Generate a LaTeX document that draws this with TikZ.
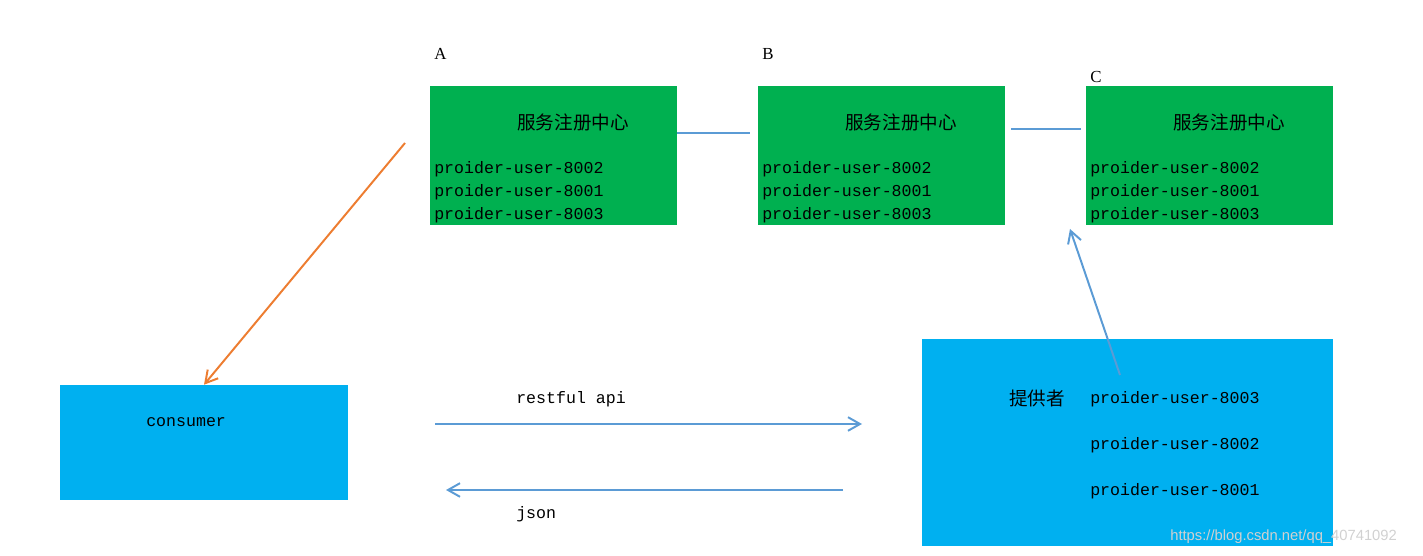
\documentclass[tikz,border=0pt]{standalone}
\usepackage{fontspec}
\setmainfont{Liberation Serif}
\setmonofont{Liberation Mono}
\newfontfamily\cjk{Noto Sans CJK SC}
\newfontfamily\wmfont{Liberation Sans}
\usepackage{tikz}
\usetikzlibrary{arrows.meta,positioning}

\definecolor{regGreen}{HTML}{00B050}
\definecolor{boxCyan}{HTML}{00B0F0}
\definecolor{lineBlue}{HTML}{5B9BD5}
\definecolor{lineOrange}{HTML}{ED7D31}

\begin{document}
\begin{tikzpicture}[x=0.025cm, y=-0.025cm]
				\tikzstyle{Registry}	= [fill=regGreen, minimum width=6.175cm, minimum height=3.475cm, inner sep=0pt]
				\tikzstyle{Client}	= [fill=boxCyan, minimum width=7.2cm, minimum height=2.875cm, inner sep=0pt]
				\tikzstyle{Provider}	= [fill=boxCyan, minimum width=10.275cm, minimum height=5.175cm, inner sep=0pt]
				\tikzstyle{Title}	= [font=\cjk\fontsize{13.2}{16}\selectfont, inner sep=0pt]
				\tikzstyle{Members}	= [font=\ttfamily\fontsize{11.8}{16.4}\selectfont, align=left, anchor=west, inner sep=0pt]
				\tikzstyle{Letter}	= [font=\fontsize{12}{14}\selectfont, anchor=west, inner sep=0pt]
				\tikzstyle{Tag}		= [font=\ttfamily\fontsize{11.8}{14}\selectfont, anchor=west, inner sep=0pt]
				\tikzstyle{Link}		= [lineBlue, line width=1.4pt]
				\tikzstyle{Call}		= [-{Straight Barb[length=0.3cm, width=0.34cm, line width=1.4pt]}, line width=1.4pt]
				
				\useasboundingbox (0,0) rectangle (1423,556);
				
				% three registry centres
				\foreach \n/\x/\ly in {A/430/54, B/758/54, C/1086/77} {
					\node (reg\n) at (\x+123.5, 155.5) [Registry] {};
					\node (lab\n) at (\x+4, \ly) [Letter] {\n};
					\node (title\n) at (\x+143, 122) [Title] {服务注册中心};
					\node (list\n) at (\x+4, 192) [Members] {proider-user-8002\\proider-user-8001\\proider-user-8003};
				}
				
				\draw [Link] ([yshift=0.5625cm]regA.east) -- ([xshift=-0.2cm, yshift=0.5625cm]regB.west);
				\draw [Link] ([xshift=0.15cm, yshift=0.6625cm]regB.east) -- ([xshift=-0.125cm, yshift=0.6625cm]regC.west);
				
				\node (consumer) at (204, 442.5) [Client] {};
				\node (consumerTxt) at (146, 422) [Tag] {consumer};
				
				\node (provider) at (1127.5, 442.5) [Provider] {};
				\node (providerTxt) at (1009, 398) [Title, anchor=west] {提供者};
				\node (providerList) at (1090, 445) [Members, font=\ttfamily\fontsize{11.8}{32.7}\selectfont] {proider-user-8003\\proider-user-8002\\proider-user-8001};
				
				\coordinate (fetch) at (405, 143);
				\draw [Call, lineOrange] (fetch) -- (consumer.north);
				
				\coordinate (reqS) at (435, 424);
				\coordinate (reqE) at (862, 424);
				\draw [Call, lineBlue] (reqS) -- (reqE);
				\node (reqTxt) at (516, 399) [Tag] {restful api};
				
				\coordinate (resS) at (843, 490);
				\coordinate (resE) at (446, 490);
				\draw [Call, lineBlue] (resS) -- (resE);
				\node (resTxt) at (516, 514) [Tag] {json};
				
				\coordinate (regS) at (1120, 375);
				\coordinate (regE) at (1070, 229);
				\draw [Call, lineBlue] (regS) -- (regE);
				
				\node (mark) at (1170, 537) [anchor=west, inner sep=0pt, font=\wmfont\fontsize{10.5}{12}\selectfont, text=white!82!black] {https://blog.csdn.net/qq\_40741092};
			\end{tikzpicture}
\end{document}
